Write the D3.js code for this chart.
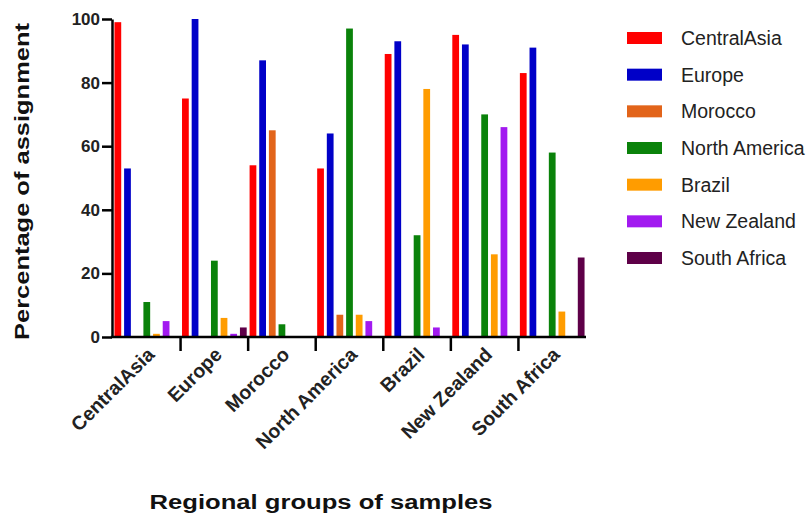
<!DOCTYPE html>
<html>
<head>
<meta charset="utf-8">
<script src="https://cdn.jsdelivr.net/npm/d3@7/dist/d3.min.js"></script>
<style>
  html, body { margin: 0; padding: 0; background: #fff; }
  svg { display: block; }
  text { font-family: "Liberation Sans", Arial, sans-serif; }
</style>
</head>
<body>
<svg id="chart" width="810" height="515"></svg>
<script>
// ---- data ----
const groups = ["CentralAsia", "Europe", "Morocco", "North America", "Brazil", "New Zealand", "South Africa"];
const series = ["CentralAsia", "Europe", "Morocco", "North America", "Brazil", "New Zealand", "South Africa"];
const colors = ["#FF0000", "#0000C8", "#E2641A", "#0A820A", "#FF9C00", "#A21AF0", "#5E0048"];
// values per sample group: percentage assigned to each series
const valCentralAsia   = [99, 53, 0, 11, 1, 5, 0];
const valEurope        = [75, 100, 0, 24, 6, 1, 3];
const valMorocco       = [54, 87, 65, 4, 0, 0, 0];
const valNorthAmerica  = [53, 64, 7, 97, 7, 5, 0];
const valBrazil        = [89, 93, 0, 32, 78, 3, 0];
const valNewZealand    = [95, 92, 0, 70, 26, 66, 0];
const valSouthAfrica   = [83, 91, 0, 58, 8, 0, 25];
const yTicks = [0, 20, 40, 60, 80, 100];
const yTitle = "Percentage of assignment";
const xTitle = "Regional groups of samples";

const values = [valCentralAsia, valEurope, valMorocco, valNorthAmerica, valBrazil, valNewZealand, valSouthAfrica];

const svg = d3.select("#chart");
const mLeft = 113, mRight = 586, mTop = 19, mBottom = 337;

const x0 = d3.scaleBand().domain(groups).range([mLeft, mRight]).paddingInner(0).paddingOuter(0);
const x1 = d3.scaleBand().domain(series).range([0, x0.bandwidth()]).paddingInner(0.3).paddingOuter(0.15);
const y = d3.scaleLinear().domain([0, 100]).range([mBottom, mTop]);

// bars
const gBars = svg.append("g");
groups.forEach((g, gi) => {
  gBars.append("g")
    .attr("transform", `translate(${x0(g)},0)`)
    .selectAll("rect")
    .data(series.map((s, si) => ({ s, v: values[gi][si], c: colors[si] })))
    .join("rect")
    .attr("x", d => x1(d.s))
    .attr("width", x1.bandwidth())
    .attr("y", d => y(d.v))
    .attr("height", d => y(0) - y(d.v))
    .attr("fill", d => d.c);
});

// y axis
const yAxis = svg.append("g")
  .attr("transform", `translate(${mLeft - 1},0)`)
  .call(d3.axisLeft(y).tickValues(yTicks).tickSize(10).tickPadding(2).tickSizeOuter(0));
yAxis.select(".domain").attr("stroke", "#000").attr("stroke-width", 2.5);
yAxis.selectAll(".tick line").attr("stroke", "#000").attr("stroke-width", 2.5);
yAxis.selectAll(".tick text")
  .attr("font-size", 17).attr("font-weight", "bold").attr("fill", "#222")
  .style("font-family", '"Liberation Sans", Arial, sans-serif');

// x axis line
const xAxis = svg.append("g").attr("transform", `translate(0,${mBottom})`);
xAxis.append("line")
  .attr("x1", mLeft - 2.2).attr("x2", mRight)
  .attr("y1", 0).attr("y2", 0)
  .attr("stroke", "#000").attr("stroke-width", 2.5);
// ticks at group boundaries
xAxis.selectAll("line.tk")
  .data(groups.slice(1))
  .join("line")
  .attr("class", "tk")
  .attr("x1", d => x0(d)).attr("x2", d => x0(d))
  .attr("y1", 0).attr("y2", 14)
  .attr("stroke", "#000").attr("stroke-width", 2.5);
// rotated labels
xAxis.selectAll("text.lbl")
  .data(groups)
  .join("text")
  .attr("class", "lbl")
  .attr("transform", d => `translate(${x0(d) + x0.bandwidth() / 2 + 4},${14}) rotate(-45)`)
  .attr("text-anchor", "end")
  .attr("dy", "0.35em")
  .attr("font-size", 19.5)
  .attr("font-weight", "bold")
  .attr("fill", "#222")
  .text(d => d);

// titles
svg.append("text")
  .attr("transform", `translate(29,${(23 + 340) / 2}) rotate(-90)`)
  .attr("text-anchor", "middle")
  .attr("font-size", 20)
  .attr("font-weight", "bold")
  .attr("fill", "#111")
  .attr("textLength", 317)
  .attr("lengthAdjust", "spacingAndGlyphs")
  .text(yTitle);

svg.append("text")
  .attr("x", 321).attr("y", 509)
  .attr("text-anchor", "middle")
  .attr("font-size", 20)
  .attr("font-weight", "bold")
  .attr("fill", "#111")
  .attr("textLength", 343)
  .attr("lengthAdjust", "spacingAndGlyphs")
  .text(xTitle);

// legend
const leg = svg.append("g");
const legY = d3.scalePoint().domain(series).range([38, 258]);
series.forEach((s, i) => {
  leg.append("rect")
    .attr("x", 627).attr("y", legY(s) - 6)
    .attr("width", 35).attr("height", 12)
    .attr("fill", colors[i]);
  leg.append("text")
    .attr("x", 681).attr("y", legY(s))
    .attr("dy", "0.36em")
    .attr("font-size", 19.5)
    .attr("fill", "#222")
    .text(s);
});
</script>
</body>
</html>
